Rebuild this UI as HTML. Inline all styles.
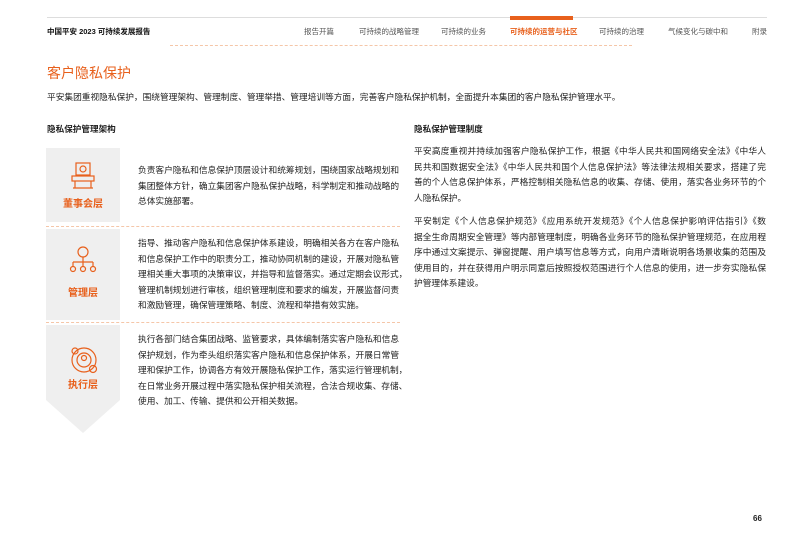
<!DOCTYPE html>
<html><head><meta charset="utf-8"><style>
body{margin:0;width:809px;height:540px;background:#fff;position:relative;overflow:hidden;font-family:"Liberation Sans","Noto Sans CJK SC",sans-serif;color:#222}
.a{position:absolute;white-space:nowrap}
.t{font-size:8.7px;line-height:15.6px;position:absolute;color:#222}
.t div{white-space:nowrap;text-align:justify;text-align-last:justify}
.t div.l{text-align-last:left}
.nav{font-size:7.5px;color:#555;top:26px}
.lbl{font-size:10px;font-weight:bold;color:#e8601c;width:74px;text-align:center;left:46px}
.dash{position:absolute;left:46px;width:354px;border-top:1px dashed #f5c6a8}
</style></head><body>
<div class="a" style="left:47px;top:17px;width:720px;border-top:1px solid #ddd"></div>
<div class="a" style="left:510px;top:16px;width:63px;height:4px;background:#e8601c"></div>
<div class="a" style="left:47px;top:26px;font-size:7.5px;font-weight:bold;color:#111">中国平安 2023 可持续发展报告</div>
<div class="a nav" style="left:304px">报告开篇</div>
<div class="a nav" style="left:359px">可持续的战略管理</div>
<div class="a nav" style="left:441px">可持续的业务</div>
<div class="a nav" style="left:510px;color:#e8601c;font-weight:bold">可持续的运营与社区</div>
<div class="a nav" style="left:599px">可持续的治理</div>
<div class="a nav" style="left:668px">气候变化与碳中和</div>
<div class="a nav" style="left:752px">附录</div>
<div class="a" style="left:170px;top:45px;width:462px;border-top:1px dashed #f5c6a8"></div>
<div class="a" style="left:47px;top:63px;font-size:14px;color:#e8601c">客户隐私保护</div>
<div class="a" style="left:47px;top:90px;font-size:8.7px">平安集团重视隐私保护，围绕管理架构、管理制度、管理举措、管理培训等方面，完善客户隐私保护机制，全面提升本集团的客户隐私保护管理水平。</div>
<div class="a" style="left:47px;top:123px;font-size:8.6px;font-weight:bold">隐私保护管理架构</div>
<div class="a" style="left:414px;top:123px;font-size:8.6px;font-weight:bold">隐私保护管理制度</div>

<div class="a" style="left:46px;top:148px;width:74px;height:74px;background:#efefef"></div>
<div class="dash" style="top:226px"></div>
<div class="a" style="left:46px;top:229px;width:74px;height:91px;background:#efefef"></div>
<div class="dash" style="top:322px"></div>
<svg class="a" style="left:46px;top:325px" width="74" height="110"><polygon points="0,0 74,0 74,75 37,108 0,75" fill="#efefef"/></svg>

<svg class="a" style="left:70px;top:162px" width="26" height="28" fill="none" stroke="#e8601c" stroke-width="1.2"><rect x="6" y="1" width="14" height="12"/><circle cx="13" cy="7" r="3"/><rect x="2" y="14" width="22" height="5"/><path d="M5 19v7M21 19v7M3 26h20"/></svg>
<div class="a lbl" style="top:195px">董事会层</div>
<svg class="a" style="left:68px;top:246px" width="30" height="30" fill="none" stroke="#e8601c" stroke-width="1.2"><circle cx="15" cy="6" r="5"/><path d="M15 11v5M5 16h20M5 16v4M15 16v4M25 16v4"/><circle cx="5" cy="23" r="2.5"/><circle cx="15" cy="23" r="2.5"/><circle cx="25" cy="23" r="2.5"/></svg>
<div class="a lbl" style="top:284px">管理层</div>
<svg class="a" style="left:68px;top:345px" width="32" height="30" fill="none" stroke="#e8601c" stroke-width="1.2"><circle cx="16" cy="15" r="12"/><circle cx="16" cy="15" r="7"/><circle cx="16" cy="13" r="2.5"/><circle cx="7" cy="6" r="3"/><circle cx="25" cy="24" r="3.5"/></svg>
<div class="a lbl" style="top:376px">执行层</div>

<div class="t" style="left:138px;top:163px;width:261px">
<div>负责客户隐私和信息保护顶层设计和统筹规划，围绕国家战略规划和</div>
<div>集团整体方针，确立集团客户隐私保护战略，科学制定和推动战略的</div>
<div class="l">总体实施部署。</div></div>
<div class="t" style="left:138px;top:236px;width:261px">
<div>指导、推动客户隐私和信息保护体系建设，明确相关各方在客户隐私</div>
<div>和信息保护工作中的职责分工，推动协同机制的建设，开展对隐私管</div>
<div>理相关重大事项的决策审议，并指导和监督落实。通过定期会议形式，</div>
<div>管理机制规划进行审核，组织管理制度和要求的编发，开展监督问责</div>
<div class="l">和激励管理，确保管理策略、制度、流程和举措有效实施。</div></div>
<div class="t" style="left:138px;top:332px;width:261px">
<div>执行各部门结合集团战略、监管要求，具体编制落实客户隐私和信息</div>
<div>保护规划，作为牵头组织落实客户隐私和信息保护体系，开展日常管</div>
<div>理和保护工作，协调各方有效开展隐私保护工作，落实运行管理机制，</div>
<div>在日常业务开展过程中落实隐私保护相关流程，合法合规收集、存储、</div>
<div class="l">使用、加工、传输、提供和公开相关数据。</div></div>

<div class="t" style="left:414px;top:144px;width:352px">
<div>平安高度重视并持续加强客户隐私保护工作，根据《中华人民共和国网络安全法》《中华人</div>
<div>民共和国数据安全法》《中华人民共和国个人信息保护法》等法律法规相关要求，搭建了完</div>
<div>善的个人信息保护体系，严格控制相关隐私信息的收集、存储、使用，落实各业务环节的个</div>
<div class="l">人隐私保护。</div></div>
<div class="t" style="left:414px;top:214px;width:352px">
<div>平安制定《个人信息保护规范》《应用系统开发规范》《个人信息保护影响评估指引》《数</div>
<div>据全生命周期安全管理》等内部管理制度，明确各业务环节的隐私保护管理规范，在应用程</div>
<div>序中通过文案提示、弹窗提醒、用户填写信息等方式，向用户清晰说明各场景收集的范围及</div>
<div>使用目的，并在获得用户明示同意后按照授权范围进行个人信息的使用，进一步夯实隐私保</div>
<div class="l">护管理体系建设。</div></div>
<div class="a" style="left:753px;top:514px;font-size:8px;font-weight:bold">66</div>
</body></html>
